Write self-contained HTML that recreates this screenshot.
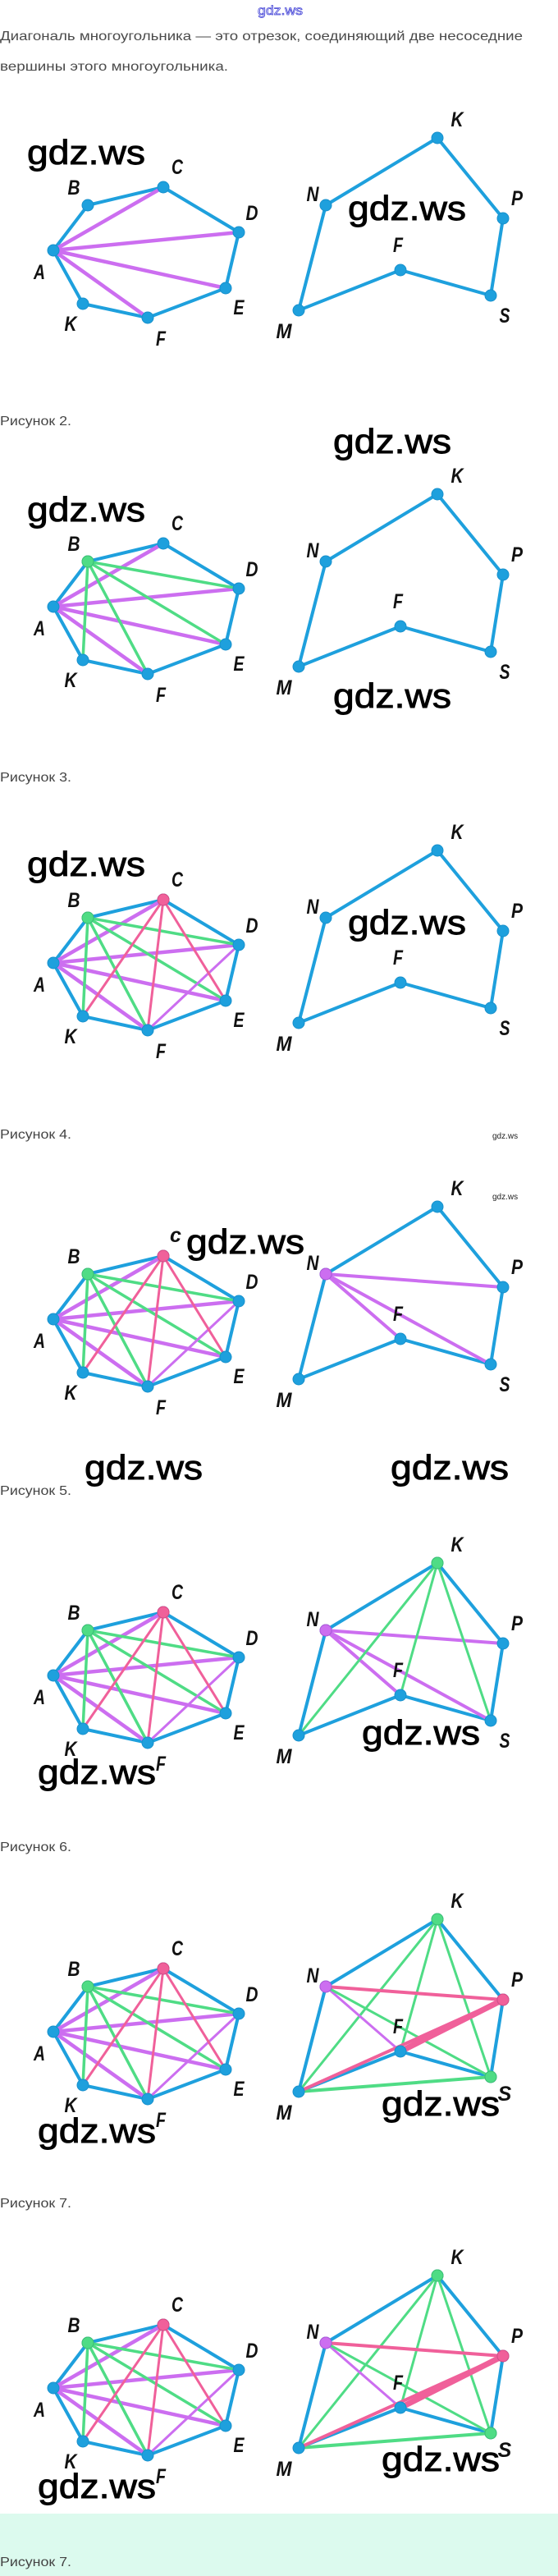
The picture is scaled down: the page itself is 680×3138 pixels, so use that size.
<!DOCTYPE html>
<html><head><meta charset="utf-8">
<style>
html,body{margin:0;padding:0;background:#fff;}
svg{display:block;}
.t{font-family:"Liberation Sans",sans-serif;fill:#4a4a4a;}
.cap{font-family:"Liberation Sans",sans-serif;fill:#444;font-size:16px;}
.lb{font-family:"Liberation Sans Narrow","Liberation Sans",sans-serif;font-weight:bold;font-style:italic;font-size:25px;fill:#111;text-anchor:middle;}
.wm{font-family:"Liberation Sans",sans-serif;font-size:42px;fill:#000;stroke:#000;stroke-width:0.9px;}
.sw{font-family:"Liberation Sans",sans-serif;font-size:10px;fill:#222;}
</style></head>
<body>
<svg width="680" height="3138" viewBox="0 0 680 3138" xmlns="http://www.w3.org/2000/svg">
<defs>
  <g id="Lpoly" fill="none" stroke="#1ea0dd" stroke-width="4" stroke-linejoin="round">
    <polygon points="65,305 107,250 199,228 291,283 275,351 180,387 101,370"/>
  </g>
  <g id="Rpoly" fill="none" stroke="#1ea0dd" stroke-width="4" stroke-linejoin="round">
    <polygon points="397,250 533,168 613,266 598,360 488,329 364,378"/>
  </g>
  <g id="Adiag" stroke="#cc6ef0" stroke-width="4.5" stroke-linecap="round">
    <line x1="65" y1="305" x2="199" y2="228"/>
    <line x1="65" y1="305" x2="291" y2="283"/>
    <line x1="65" y1="305" x2="275" y2="351"/>
    <line x1="65" y1="305" x2="180" y2="387"/>
  </g>
  <g id="Bdiag" stroke="#4fdc85" stroke-width="3.5" stroke-linecap="round">
    <line x1="107" y1="250" x2="291" y2="283"/>
    <line x1="107" y1="250" x2="275" y2="351"/>
    <line x1="107" y1="250" x2="180" y2="387"/>
    <line x1="107" y1="250" x2="101" y2="370"/>
  </g>
  <g id="Cdiag" stroke-linecap="round">
    <line x1="291" y1="283" x2="180" y2="387" stroke="#cc6ef0" stroke-width="3"/>
    <g stroke="#f0609a" stroke-width="3">
    <line x1="199" y1="228" x2="275" y2="351"/>
    <line x1="199" y1="228" x2="180" y2="387"/>
    <line x1="199" y1="228" x2="101" y2="370"/>
    </g>
  </g>
  <g id="Ndiag" stroke="#cc6ef0" stroke-width="4" stroke-linecap="round">
    <line x1="397" y1="250" x2="613" y2="266"/>
    <line x1="397" y1="250" x2="488" y2="329"/>
    <line x1="397" y1="250" x2="598" y2="360"/>
  </g>
  <g id="Kdiag" stroke="#4fdc85" stroke-width="3" stroke-linecap="round">
    <line x1="533" y1="168" x2="364" y2="378"/>
    <line x1="533" y1="168" x2="488" y2="329"/>
    <line x1="533" y1="168" x2="598" y2="360"/>
  </g>
  <g id="Pdiag" stroke-linecap="round">
    <line x1="397" y1="250" x2="613" y2="266" stroke="#f0609a" stroke-width="4"/>
    <line x1="397" y1="250" x2="488" y2="329" stroke="#cc6ef0" stroke-width="3"/>
    <line x1="397" y1="250" x2="598" y2="360" stroke="#4fdc85" stroke-width="3"/>
    <line x1="364" y1="378" x2="598" y2="360" stroke="#4fdc85" stroke-width="4"/>
    <line x1="364" y1="378" x2="613" y2="266" stroke="#f0609a" stroke-width="4"/>
    <line x1="488" y1="329" x2="613" y2="266" stroke="#f0609a" stroke-width="7"/>
  </g>
  <g id="Lv1" fill="#1ea0dd" stroke="#1790cc" stroke-width="1">
    <circle cx="65" cy="305" r="7"/><circle cx="107" cy="250" r="7"/><circle cx="199" cy="228" r="7"/>
    <circle cx="291" cy="283" r="7"/><circle cx="275" cy="351" r="7"/><circle cx="180" cy="387" r="7"/><circle cx="101" cy="370" r="7"/>
  </g>
  <g id="Rv1" fill="#1ea0dd" stroke="#1790cc" stroke-width="1">
    <circle cx="397" cy="250" r="7"/><circle cx="533" cy="168" r="7"/><circle cx="613" cy="266" r="7"/>
    <circle cx="598" cy="360" r="7"/><circle cx="488" cy="329" r="7"/><circle cx="364" cy="378" r="7"/>
  </g>
  <circle id="Bg" cx="107" cy="250" r="7" fill="#4fdc85" stroke="#3cc070"/>
  <circle id="Cp" cx="199" cy="228" r="7" fill="#f0609a" stroke="#d84a85"/>
  <circle id="Np" cx="397" cy="250" r="7" fill="#cc6ef0" stroke="#b055d8"/>
  <circle id="Kg" cx="533" cy="168" r="7" fill="#4fdc85" stroke="#3cc070"/>
  <circle id="Pp" cx="613" cy="266" r="7" fill="#f0609a" stroke="#d84a85"/>
  <circle id="Sg" cx="598" cy="360" r="7" fill="#4fdc85" stroke="#3cc070"/>
</defs>

<text x="314" y="18" font-family="Liberation Sans,sans-serif" font-size="16" fill="#fff" stroke="#4a4ad8" stroke-width="0.8" textLength="55" lengthAdjust="spacingAndGlyphs">gdz.ws</text>
<text class="t" x="0" y="49" font-size="16" textLength="637" lengthAdjust="spacingAndGlyphs">Диагональ многоугольника — это отрезок, соединяющий две несоседние</text>
<text class="t" x="0" y="86" font-size="16" textLength="278" lengthAdjust="spacingAndGlyphs">вершины этого многоугольника.</text>

<!-- FIG 1 -->
<g>
<use href="#Lpoly"/><use href="#Adiag"/><use href="#Lv1"/>
<use href="#Rpoly"/><use href="#Rv1"/>
<text class="lb" x="90" y="237" textLength="15" lengthAdjust="spacingAndGlyphs">B</text><text class="lb" x="216" y="212" textLength="14" lengthAdjust="spacingAndGlyphs">C</text><text class="lb" x="307" y="268" textLength="15" lengthAdjust="spacingAndGlyphs">D</text><text class="lb" x="48" y="340" textLength="14" lengthAdjust="spacingAndGlyphs">A</text><text class="lb" x="291" y="383" textLength="13" lengthAdjust="spacingAndGlyphs">E</text><text class="lb" x="86" y="403" textLength="15" lengthAdjust="spacingAndGlyphs">K</text><text class="lb" x="196" y="421" textLength="12" lengthAdjust="spacingAndGlyphs">F</text>
<text class="lb" x="557" y="154" textLength="15" lengthAdjust="spacingAndGlyphs">K</text><text class="lb" x="381" y="245" textLength="15" lengthAdjust="spacingAndGlyphs">N</text><text class="lb" x="630" y="250" textLength="14" lengthAdjust="spacingAndGlyphs">P</text><text class="lb" x="485" y="307" textLength="12" lengthAdjust="spacingAndGlyphs">F</text><text class="lb" x="615" y="393" textLength="13" lengthAdjust="spacingAndGlyphs">S</text><text class="lb" x="346" y="412" textLength="19" lengthAdjust="spacingAndGlyphs">M</text>
<text class="wm" x="33" y="200" textLength="144" lengthAdjust="spacingAndGlyphs">gdz.ws</text>
<text class="wm" x="424" y="268" textLength="144" lengthAdjust="spacingAndGlyphs">gdz.ws</text>
</g>
<text class="cap" x="0" y="518" textLength="87" lengthAdjust="spacingAndGlyphs">Рисунок 2.</text>

<!-- FIG 2 -->
<g transform="translate(0,434)">
<use href="#Lpoly"/><use href="#Adiag"/><use href="#Bdiag"/><use href="#Lv1"/><use href="#Bg"/>
<use href="#Rpoly"/><use href="#Rv1"/>
<text class="lb" x="90" y="237" textLength="15" lengthAdjust="spacingAndGlyphs">B</text><text class="lb" x="216" y="212" textLength="14" lengthAdjust="spacingAndGlyphs">C</text><text class="lb" x="307" y="268" textLength="15" lengthAdjust="spacingAndGlyphs">D</text><text class="lb" x="48" y="340" textLength="14" lengthAdjust="spacingAndGlyphs">A</text><text class="lb" x="291" y="383" textLength="13" lengthAdjust="spacingAndGlyphs">E</text><text class="lb" x="86" y="403" textLength="15" lengthAdjust="spacingAndGlyphs">K</text><text class="lb" x="196" y="421" textLength="12" lengthAdjust="spacingAndGlyphs">F</text>
<text class="lb" x="557" y="154" textLength="15" lengthAdjust="spacingAndGlyphs">K</text><text class="lb" x="381" y="245" textLength="15" lengthAdjust="spacingAndGlyphs">N</text><text class="lb" x="630" y="250" textLength="14" lengthAdjust="spacingAndGlyphs">P</text><text class="lb" x="485" y="307" textLength="12" lengthAdjust="spacingAndGlyphs">F</text><text class="lb" x="615" y="393" textLength="13" lengthAdjust="spacingAndGlyphs">S</text><text class="lb" x="346" y="412" textLength="19" lengthAdjust="spacingAndGlyphs">M</text>
<text class="wm" x="33" y="201" textLength="144" lengthAdjust="spacingAndGlyphs">gdz.ws</text>
<text class="wm" x="406" y="118" textLength="144" lengthAdjust="spacingAndGlyphs">gdz.ws</text>
<text class="wm" x="406" y="428" textLength="144" lengthAdjust="spacingAndGlyphs">gdz.ws</text>
</g>
<text class="cap" x="0" y="952" textLength="87" lengthAdjust="spacingAndGlyphs">Рисунок 3.</text>

<!-- FIG 3 -->
<g transform="translate(0,868)">
<use href="#Lpoly"/><use href="#Adiag"/><use href="#Bdiag"/><use href="#Cdiag"/><use href="#Lv1"/><use href="#Bg"/><use href="#Cp"/>
<use href="#Rpoly"/><use href="#Rv1"/>
<text class="lb" x="90" y="237" textLength="15" lengthAdjust="spacingAndGlyphs">B</text><text class="lb" x="216" y="212" textLength="14" lengthAdjust="spacingAndGlyphs">C</text><text class="lb" x="307" y="268" textLength="15" lengthAdjust="spacingAndGlyphs">D</text><text class="lb" x="48" y="340" textLength="14" lengthAdjust="spacingAndGlyphs">A</text><text class="lb" x="291" y="383" textLength="13" lengthAdjust="spacingAndGlyphs">E</text><text class="lb" x="86" y="403" textLength="15" lengthAdjust="spacingAndGlyphs">K</text><text class="lb" x="196" y="421" textLength="12" lengthAdjust="spacingAndGlyphs">F</text>
<text class="lb" x="557" y="154" textLength="15" lengthAdjust="spacingAndGlyphs">K</text><text class="lb" x="381" y="245" textLength="15" lengthAdjust="spacingAndGlyphs">N</text><text class="lb" x="630" y="250" textLength="14" lengthAdjust="spacingAndGlyphs">P</text><text class="lb" x="485" y="307" textLength="12" lengthAdjust="spacingAndGlyphs">F</text><text class="lb" x="615" y="393" textLength="13" lengthAdjust="spacingAndGlyphs">S</text><text class="lb" x="346" y="412" textLength="19" lengthAdjust="spacingAndGlyphs">M</text>
<text class="wm" x="33" y="199" textLength="144" lengthAdjust="spacingAndGlyphs">gdz.ws</text>
<text class="wm" x="424" y="270" textLength="144" lengthAdjust="spacingAndGlyphs">gdz.ws</text>
</g>
<text class="cap" x="0" y="1387" textLength="87" lengthAdjust="spacingAndGlyphs">Рисунок 4.</text>
<text class="sw" x="600" y="1387">gdz.ws</text>
<text class="sw" x="600" y="1461">gdz.ws</text>

<!-- FIG 4 -->
<g transform="translate(0,1302)">
<use href="#Lpoly"/><use href="#Adiag"/><use href="#Bdiag"/><use href="#Cdiag"/><use href="#Lv1"/><use href="#Bg"/><use href="#Cp"/>
<use href="#Rpoly"/><use href="#Ndiag"/><use href="#Rv1"/><use href="#Np"/>
<text class="lb" x="90" y="237" textLength="15" lengthAdjust="spacingAndGlyphs">B</text><text class="lb" x="214" y="211" font-size="18">c</text><text class="lb" x="307" y="268" textLength="15" lengthAdjust="spacingAndGlyphs">D</text><text class="lb" x="48" y="340" textLength="14" lengthAdjust="spacingAndGlyphs">A</text><text class="lb" x="291" y="383" textLength="13" lengthAdjust="spacingAndGlyphs">E</text><text class="lb" x="86" y="403" textLength="15" lengthAdjust="spacingAndGlyphs">K</text><text class="lb" x="196" y="421" textLength="12" lengthAdjust="spacingAndGlyphs">F</text>
<text class="lb" x="557" y="154" textLength="15" lengthAdjust="spacingAndGlyphs">K</text><text class="lb" x="381" y="245" textLength="15" lengthAdjust="spacingAndGlyphs">N</text><text class="lb" x="630" y="250" textLength="14" lengthAdjust="spacingAndGlyphs">P</text><text class="lb" x="485" y="307" textLength="12" lengthAdjust="spacingAndGlyphs">F</text><text class="lb" x="615" y="393" textLength="13" lengthAdjust="spacingAndGlyphs">S</text><text class="lb" x="346" y="412" textLength="19" lengthAdjust="spacingAndGlyphs">M</text>
<text class="wm" x="227" y="225" textLength="144" lengthAdjust="spacingAndGlyphs">gdz.ws</text>
<text class="wm" x="103" y="500" textLength="144" lengthAdjust="spacingAndGlyphs">gdz.ws</text>
<text class="wm" x="476" y="500" textLength="144" lengthAdjust="spacingAndGlyphs">gdz.ws</text>
</g>
<text class="cap" x="0" y="1821" textLength="87" lengthAdjust="spacingAndGlyphs">Рисунок 5.</text>

<!-- FIG 5 -->
<g transform="translate(0,1736)">
<use href="#Lpoly"/><use href="#Adiag"/><use href="#Bdiag"/><use href="#Cdiag"/><use href="#Lv1"/><use href="#Bg"/><use href="#Cp"/>
<use href="#Rpoly"/><use href="#Ndiag"/><use href="#Kdiag"/><use href="#Rv1"/><use href="#Np"/><use href="#Kg"/>
<text class="lb" x="90" y="237" textLength="15" lengthAdjust="spacingAndGlyphs">B</text><text class="lb" x="216" y="212" textLength="14" lengthAdjust="spacingAndGlyphs">C</text><text class="lb" x="307" y="268" textLength="15" lengthAdjust="spacingAndGlyphs">D</text><text class="lb" x="48" y="340" textLength="14" lengthAdjust="spacingAndGlyphs">A</text><text class="lb" x="291" y="383" textLength="13" lengthAdjust="spacingAndGlyphs">E</text><text class="lb" x="86" y="403" textLength="15" lengthAdjust="spacingAndGlyphs">K</text><text class="lb" x="196" y="421" textLength="12" lengthAdjust="spacingAndGlyphs">F</text>
<text class="lb" x="557" y="154" textLength="15" lengthAdjust="spacingAndGlyphs">K</text><text class="lb" x="381" y="245" textLength="15" lengthAdjust="spacingAndGlyphs">N</text><text class="lb" x="630" y="250" textLength="14" lengthAdjust="spacingAndGlyphs">P</text><text class="lb" x="485" y="307" textLength="12" lengthAdjust="spacingAndGlyphs">F</text><text class="lb" x="615" y="393" textLength="13" lengthAdjust="spacingAndGlyphs">S</text><text class="lb" x="346" y="412" textLength="19" lengthAdjust="spacingAndGlyphs">M</text>
<text class="wm" x="46" y="437" textLength="144" lengthAdjust="spacingAndGlyphs">gdz.ws</text>
<text class="wm" x="441" y="389" textLength="144" lengthAdjust="spacingAndGlyphs">gdz.ws</text>
</g>
<text class="cap" x="0" y="2255" textLength="87" lengthAdjust="spacingAndGlyphs">Рисунок 6.</text>

<!-- FIG 6 -->
<g transform="translate(0,2170)">
<use href="#Lpoly"/><use href="#Adiag"/><use href="#Bdiag"/><use href="#Cdiag"/><use href="#Lv1"/><use href="#Bg"/><use href="#Cp"/>
<use href="#Rpoly"/><use href="#Kdiag"/><use href="#Pdiag"/><use href="#Rv1"/><use href="#Np"/><use href="#Kg"/><use href="#Pp"/><use href="#Sg"/>
<text class="lb" x="90" y="237" textLength="15" lengthAdjust="spacingAndGlyphs">B</text><text class="lb" x="216" y="212" textLength="14" lengthAdjust="spacingAndGlyphs">C</text><text class="lb" x="307" y="268" textLength="15" lengthAdjust="spacingAndGlyphs">D</text><text class="lb" x="48" y="340" textLength="14" lengthAdjust="spacingAndGlyphs">A</text><text class="lb" x="291" y="383" textLength="13" lengthAdjust="spacingAndGlyphs">E</text><text class="lb" x="86" y="403" textLength="15" lengthAdjust="spacingAndGlyphs">K</text><text class="lb" x="196" y="421" textLength="12" lengthAdjust="spacingAndGlyphs">F</text>
<text class="lb" x="557" y="154" textLength="15" lengthAdjust="spacingAndGlyphs">K</text><text class="lb" x="381" y="245" textLength="15" lengthAdjust="spacingAndGlyphs">N</text><text class="lb" x="630" y="250" textLength="14" lengthAdjust="spacingAndGlyphs">P</text><text class="lb" x="485" y="307" textLength="12" lengthAdjust="spacingAndGlyphs">F</text><text class="lb" x="615" y="389" font-size="20">S</text><text class="lb" x="346" y="412" textLength="19" lengthAdjust="spacingAndGlyphs">M</text>
<text class="wm" x="46" y="440" textLength="144" lengthAdjust="spacingAndGlyphs">gdz.ws</text>
<text class="wm" x="465" y="407" textLength="144" lengthAdjust="spacingAndGlyphs">gdz.ws</text>
</g>
<text class="cap" x="0" y="2689" textLength="87" lengthAdjust="spacingAndGlyphs">Рисунок 7.</text>

<!-- FIG 7 -->
<rect x="0" y="3062" width="680" height="76" fill="#dcfaee"/>
<g transform="translate(0,2604)">
<use href="#Lpoly"/><use href="#Adiag"/><use href="#Bdiag"/><use href="#Cdiag"/><use href="#Lv1"/><use href="#Bg"/><use href="#Cp"/>
<use href="#Rpoly"/><use href="#Kdiag"/><use href="#Pdiag"/><use href="#Rv1"/><use href="#Np"/><use href="#Kg"/><use href="#Pp"/><use href="#Sg"/>
<text class="lb" x="90" y="237" textLength="15" lengthAdjust="spacingAndGlyphs">B</text><text class="lb" x="216" y="212" textLength="14" lengthAdjust="spacingAndGlyphs">C</text><text class="lb" x="307" y="268" textLength="15" lengthAdjust="spacingAndGlyphs">D</text><text class="lb" x="48" y="340" textLength="14" lengthAdjust="spacingAndGlyphs">A</text><text class="lb" x="291" y="383" textLength="13" lengthAdjust="spacingAndGlyphs">E</text><text class="lb" x="86" y="403" textLength="15" lengthAdjust="spacingAndGlyphs">K</text><text class="lb" x="196" y="421" textLength="12" lengthAdjust="spacingAndGlyphs">F</text>
<text class="lb" x="557" y="154" textLength="15" lengthAdjust="spacingAndGlyphs">K</text><text class="lb" x="381" y="245" textLength="15" lengthAdjust="spacingAndGlyphs">N</text><text class="lb" x="630" y="250" textLength="14" lengthAdjust="spacingAndGlyphs">P</text><text class="lb" x="485" y="307" textLength="12" lengthAdjust="spacingAndGlyphs">F</text><text class="lb" x="615" y="389" font-size="20">S</text><text class="lb" x="346" y="412" textLength="19" lengthAdjust="spacingAndGlyphs">M</text>
<text class="wm" x="46" y="439" textLength="144" lengthAdjust="spacingAndGlyphs">gdz.ws</text>
<text class="wm" x="465" y="406" textLength="144" lengthAdjust="spacingAndGlyphs">gdz.ws</text>
</g>
<text class="cap" x="0" y="3126" textLength="87" lengthAdjust="spacingAndGlyphs">Рисунок 7.</text>
</svg>
</body></html>
